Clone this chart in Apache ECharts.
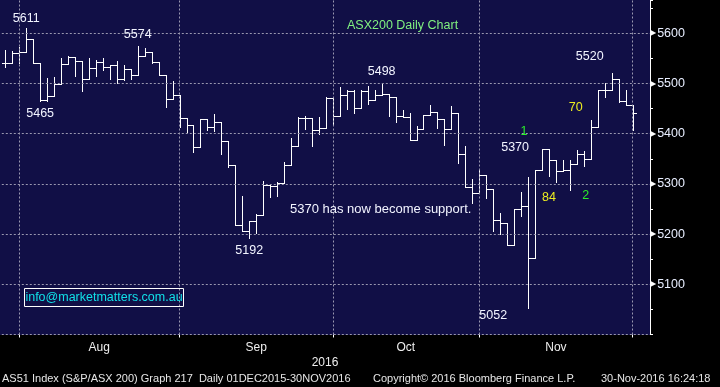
<!DOCTYPE html>
<html><head><meta charset="utf-8">
<script src="https://cdn.jsdelivr.net/npm/echarts@6/dist/echarts.min.js"></script>
<style>html,body{margin:0;padding:0;background:#000}#c{width:720px;height:387px}</style>
</head><body><div id="c"></div>
<script>
// Trading days 27 Jul 2016 – 30 Nov 2016 (plus two empty slots at the right edge)
const dates = ['27 Jul','28 Jul','29 Jul',
 '1 Aug','2 Aug','3 Aug','4 Aug','5 Aug','8 Aug','9 Aug','10 Aug','11 Aug','12 Aug','15 Aug','16 Aug','17 Aug','18 Aug','19 Aug','22 Aug','23 Aug','24 Aug','25 Aug','26 Aug','29 Aug','30 Aug','31 Aug',
 '1 Sep','2 Sep','5 Sep','6 Sep','7 Sep','8 Sep','9 Sep','12 Sep','13 Sep','14 Sep','15 Sep','16 Sep','19 Sep','20 Sep','21 Sep','22 Sep','23 Sep','26 Sep','27 Sep','28 Sep','29 Sep','30 Sep',
 '3 Oct','4 Oct','5 Oct','6 Oct','7 Oct','10 Oct','11 Oct','12 Oct','13 Oct','14 Oct','17 Oct','18 Oct','19 Oct','20 Oct','21 Oct','24 Oct','25 Oct','26 Oct','27 Oct','28 Oct','31 Oct',
 '1 Nov','2 Nov','3 Nov','4 Nov','7 Nov','8 Nov','9 Nov','10 Nov','11 Nov','14 Nov','15 Nov','16 Nov','17 Nov','18 Nov','21 Nov','22 Nov','23 Nov','24 Nov','25 Nov','28 Nov','29 Nov','30 Nov'];
const padDates = ['1 Dec','2 Dec'];

const opens = [5540,5540,5561,5563,5589,5540,5467,5476,5498,5539,5553,5545,5508,5531,5543,5532,5537,5508,5528,5516,5555,5562,5542,5516,5469,5478,5432,5417,5373,5430,5414,5423,5386,5338,5218,5207,5226,5238,5297,5295,5301,5338,5375,5432,5432,5407,5412,5472,5435,5478,5486,5452,5485,5468,5477,5479,5473,5435,5433,5388,5410,5437,5443,5430,5409,5442,5360,5293,5282,5318,5290,5228,5223,5179,5250,5255,5153,5328,5370,5347,5325,5327,5339,5359,5350,5413,5487,5487,5508,5465,5458];
const highs = [5567,5565,5573,5611,5589,5540,5511,5513,5550,5555,5553,5545,5550,5547,5550,5537,5545,5537,5528,5574,5570,5562,5542,5516,5505,5478,5432,5417,5430,5430,5440,5423,5386,5338,5276,5226,5241,5306,5300,5303,5343,5392,5433,5436,5432,5433,5473,5472,5493,5487,5487,5487,5494,5487,5498,5479,5473,5448,5442,5416,5438,5458,5443,5430,5455,5442,5375,5310,5329,5318,5290,5243,5223,5250,5283,5313,5328,5370,5370,5347,5347,5347,5367,5365,5427,5487,5500,5520,5508,5487,5458];
const lows = [5533,5540,5540,5563,5540,5465,5465,5476,5498,5539,5515,5485,5508,5515,5527,5508,5500,5507,5509,5516,5555,5540,5516,5453,5469,5413,5403,5363,5373,5407,5406,5360,5333,5218,5206,5192,5203,5238,5273,5276,5301,5338,5375,5410,5375,5400,5412,5417,5435,5450,5441,5452,5460,5468,5477,5435,5423,5433,5388,5388,5410,5437,5411,5377,5409,5342,5293,5262,5282,5272,5207,5201,5178,5179,5236,5052,5153,5328,5315,5303,5325,5287,5339,5335,5350,5413,5473,5487,5463,5457,5407];
const closes = [5540,5561,5563,5589,5540,5467,5476,5498,5539,5553,5545,5508,5531,5543,5532,5537,5508,5528,5516,5555,5562,5542,5516,5469,5478,5432,5417,5373,5430,5414,5423,5386,5338,5218,5207,5226,5238,5297,5295,5301,5338,5375,5432,5432,5407,5412,5472,5435,5478,5486,5452,5485,5468,5477,5479,5473,5435,5433,5388,5410,5437,5443,5430,5409,5442,5360,5293,5282,5318,5290,5228,5223,5179,5250,5255,5153,5328,5370,5347,5325,5327,5339,5359,5350,5413,5487,5487,5508,5465,5458,5440.5];

const monthLabelAt = {13:'Aug', 36:'Sep', 57:'Oct', 79:'Nov'};
const monthEndDates = ['29 Jul','31 Aug','30 Sep','31 Oct','30 Nov'];
const yearLabel = '2016';
const yGridValues = [5000,5100,5200,5300,5400,5500,5600];
const yMin = 5000, yMax = 5666.3, yStep = 100, yMinorStep = 50;

// annotations: text, category, value, colour key
const annotations = [
 ['5611','1 Aug',5630,'w'],['5465','3 Aug',5441,'w'],['5574','23 Aug',5597,'w'],
 ['5498','11 Oct',5523,'w'],['5520','22 Nov',5553,'w'],['70','18 Nov',5453,'y'],
 ['1','8 Nov',5405,'g'],['5370','7 Nov',5373,'w'],['84','14 Nov',5272,'y'],
 ['2','21 Nov',5277,'g'],['5052','2 Nov',5037,'w'],['5192','14 Sep',5167,'w'],
 ['5370 has now become support.','11 Oct',5249,'w'],['ASX200 Daily Chart','14 Oct',5615,'t']
];
const annDx = {'1':3,'2':2,'5520':-1,'70':-1,'5370':1,'5370 has now become support.':-1};
const colorMap = {w:'#f2f4ff', y:'#ecec20', g:'#2aee2a', t:'#80f280'};

const FONT = 'Liberation Sans';
const NAVY = '#110f46';
const GRID = '#9a98b0';

const ohlc = closes.map((c,i)=>[i, opens[i], highs[i], lows[i], c]);
const lastClose = closes[closes.length-1];

function renderOHLC(params, api){
  const i = api.value(0);
  const pO = api.coord([i, api.value(1)]);
  const pH = api.coord([i, api.value(2)]);
  const pL = api.coord([i, api.value(3)]);
  const pC = api.coord([i, api.value(4)]);
  const half = api.size([1,0])[0]*0.5;
  const x = Math.round(pO[0]) + 0.5;
  const yo = Math.round(pO[1]) + 0.5, yc = Math.round(pC[1]) + 0.5;
  const st = {stroke:'#ffffff', lineWidth:1};
  return {type:'group', children:[
    {type:'line', shape:{x1:x, y1:Math.round(pH[1]), x2:x, y2:Math.round(pL[1])+1}, style:st},
    {type:'line', shape:{x1:x-half, y1:yo, x2:x, y2:yo}, style:st},
    {type:'line', shape:{x1:x, y1:yc, x2:x+half, y2:yc}, style:st}
  ]};
}

const gridLineStyle = {color:GRID, width:1, type:[2,2]};

const chart = echarts.init(document.getElementById('c'), null, {renderer:'canvas'});
chart.setOption({
  backgroundColor:'#000',
  animation:false,
  grid:{left:1.8, right:70, top:0, bottom:52.5, containLabel:false},
  graphic:[
    {type:'rect', z:-10, shape:{x:0,y:0,width:650,height:335}, style:{fill:NAVY}},
    {type:'rect', z:10, shape:{x:24.5,y:288.5,width:159,height:18}, style:{fill:'none', stroke:'#fff', lineWidth:1}},
    {type:'text', z:10, x:104, y:297.5, style:{text:'info@marketmatters.com.au', fill:'#10e0e8', font:'12.5px "Liberation Sans"', align:'center', verticalAlign:'middle'}},
    {type:'text', z:10, x:325, y:362.5, style:{text:yearLabel, fill:'#eeeeee', font:'12px "Liberation Sans"', align:'center', verticalAlign:'middle'}},
    {type:'text', z:10, x:2, y:379, style:{text:'AS51 Index (S&P/ASX 200) Graph 217  Daily 01DEC2015-30NOV2016', fill:'#e6e6e6', font:'11px "Liberation Sans"', align:'left', verticalAlign:'middle'}},
    {type:'text', z:10, x:373, y:379, style:{text:'Copyright\u00a9 2016 Bloomberg Finance L.P.', fill:'#e6e6e6', font:'11px "Liberation Sans"', align:'left', verticalAlign:'middle'}},
    {type:'text', z:10, x:601, y:379, style:{text:'30-Nov-2016 16:24:18', fill:'#e6e6e6', font:'11px "Liberation Sans"', align:'left', verticalAlign:'middle'}}
  ],
  xAxis:{
    type:'category', data:dates.concat(padDates), boundaryGap:true,
    axisLine:{show:false},
    axisTick:{show:true, alignWithLabel:true, length:3, lineStyle:{color:'#fff'},
      interval:(i,v)=>monthEndDates.indexOf(v)>=0},
    axisLabel:{show:true, margin:7, color:'#eeeeee', fontFamily:FONT, fontSize:12,
      interval:(i)=>monthLabelAt[i]!==undefined,
      formatter:(v,i)=>{const m=monthLabelAt[i]; if(!m) return ''; return (m==='Aug'||m==='Oct')?'{s|'+m+'}':m;},
      rich:{s:{padding:[0,0,0,6.5], color:'#eeeeee', fontFamily:FONT, fontSize:12}}},
    splitLine:{show:false}
  },
  yAxis:[{
    type:'value', position:'right', min:yMin, max:yMax, interval:yStep,
    axisLine:{show:true, lineStyle:{color:'#fff', width:1}},
    axisTick:{show:false},
    splitLine:{show:false},
    axisLabel:{show:true, margin:0, showMinLabel:false, showMaxLabel:false,
      formatter:(v)=>'{t|\u25B6}{v|'+v+'}',
      rich:{t:{color:'#fff', fontSize:8, fontFamily:'DejaVu Sans', padding:[0,1,0,0]},
            v:{color:'#e8eeff', fontSize:12.5, fontFamily:FONT}}}
  },{
    type:'value', position:'right', min:yMin, max:yMax, interval:yMinorStep,
    axisLine:{show:false}, splitLine:{show:false}, axisLabel:{show:false},
    axisTick:{show:true, length:3, lineStyle:{color:'#fff'}}
  }],
  series:[
    {
      type:'line', data:closes, showSymbol:false, silent:true,
      lineStyle:{opacity:0}, itemStyle:{opacity:0},
      markLine:{
        silent:true, symbol:['none','none'], animation:false,
        data: monthEndDates.map(d=>({xAxis:d, lineStyle:gridLineStyle, label:{show:false}}))
          .concat(yGridValues.map(v=>({yAxis:v, lineStyle:gridLineStyle, label:{show:false}})))
          .concat([{yAxis:lastClose, lineStyle:{opacity:0},
            label:{show:true, position:'end', distance:1,
              formatter:'{a|\u25C0}{b|'+lastClose.toFixed(4)+'}',
              rich:{a:{color:'#fff', fontSize:9, fontFamily:'DejaVu Sans', padding:[0,0,0,0]},
                    b:{backgroundColor:'#fff', color:'#000', fontSize:12.5, fontFamily:FONT, padding:[2,2,1,1]}}}}])
      },
      markPoint:{
        silent:true, animation:false,
        data: annotations.map(a=>({coord:[a[1], a[2]], symbol:'circle', symbolSize:1,
          itemStyle:{color:'rgba(0,0,0,0)'},
          label:{show:true, position:'inside', formatter:a[0], offset:[annDx[a[0]]||0,0],
            color:colorMap[a[3]], fontFamily:FONT, fontSize:(a[0].length>10&&a[3]==='w')?13:12.5}}))
      }
    },
    {
      type:'custom', renderItem:renderOHLC, data:ohlc,
      encode:{x:0, y:[1,2,3,4]}, clip:true, silent:true
    }
  ]
});
</script>
</body></html>
